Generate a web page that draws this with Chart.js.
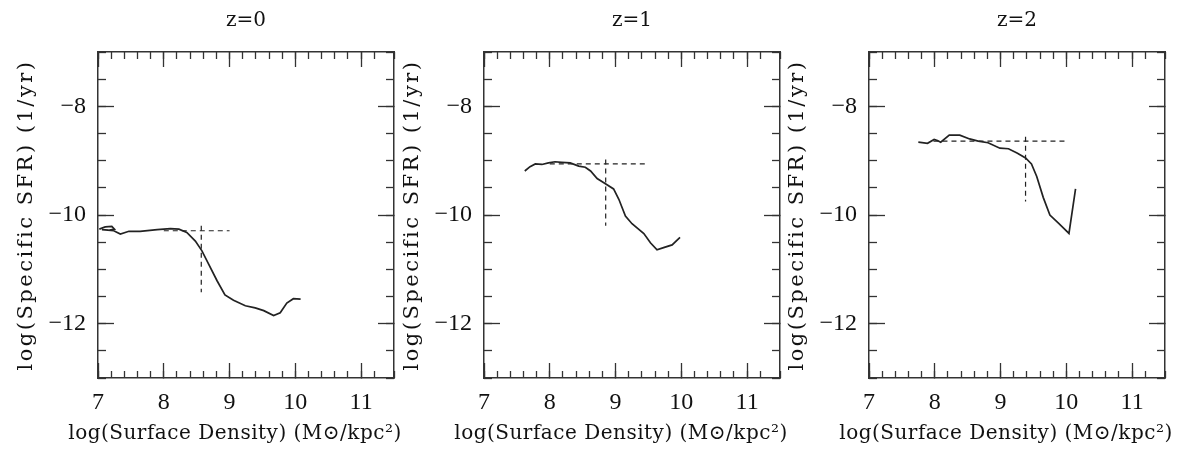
<!DOCTYPE html>
<html>
<head>
<meta charset="utf-8">
<script src="https://cdn.jsdelivr.net/npm/chart.js@4"></script>
<style>
html,body{margin:0;padding:0;background:#fff;}
#wrap{position:relative;width:1189px;height:449px;overflow:hidden;background:#fff;}
#wrap canvas{position:absolute;top:0;}
</style>
</head>
<body>
<div id="wrap">
  <canvas id="p0" width="410" height="449" style="left:0px"></canvas>
  <canvas id="p1" width="410" height="449" style="left:386px"></canvas>
  <canvas id="p2" width="410" height="449" style="left:771px"></canvas>
</div>
<script>
// ===== DATA =====
const panelTitles=['z=0','z=1','z=2'];
const xTickLabels=[7,8,9,10,11];
const yTickLabels=[-12,-10,-8];

const z0X=[7.02,7.11,7.21,7.25,7.16,7.06,7.24,7.34,7.47,7.64,7.90,8.10,8.23,8.35,8.48,8.58,8.68,8.81,8.93,9.06,9.24,9.39,9.52,9.67,9.77,9.87,9.97,10.08];
const z0Y=[-10.26,-10.22,-10.21,-10.26,-10.28,-10.27,-10.29,-10.35,-10.30,-10.30,-10.27,-10.25,-10.26,-10.32,-10.48,-10.66,-10.90,-11.21,-11.47,-11.57,-11.67,-11.71,-11.76,-11.85,-11.80,-11.62,-11.54,-11.55];

const z1X=[7.62,7.70,7.78,7.88,7.98,8.08,8.18,8.31,8.44,8.54,8.62,8.72,8.84,8.97,9.05,9.15,9.25,9.43,9.53,9.63,9.73,9.86,9.98];
const z1Y=[-9.19,-9.11,-9.06,-9.07,-9.04,-9.02,-9.03,-9.04,-9.10,-9.12,-9.19,-9.33,-9.42,-9.52,-9.71,-10.02,-10.16,-10.34,-10.51,-10.64,-10.60,-10.55,-10.41];

const z2X=[7.75,7.89,7.99,8.04,8.09,8.22,8.38,8.53,8.66,8.81,8.99,9.12,9.25,9.38,9.47,9.55,9.65,9.75,9.88,10.04,10.14];
const z2Y=[-8.66,-8.68,-8.61,-8.63,-8.66,-8.53,-8.53,-8.60,-8.64,-8.67,-8.77,-8.78,-8.86,-8.95,-9.06,-9.29,-9.68,-10.00,-10.15,-10.34,-9.52];

// dashed cross in each panel
const hLineY=[-10.29,-9.06,-8.64];
const hLineFrom=[8.0,8.0,7.98];
const hLineTo=[9.0,9.5,9.99];
const vLineX=[8.57,8.85,9.38];
const vLineTop=[-10.2,-8.98,-8.56];
const vLineBottom=[-11.42,-10.2,-9.75];

const curvesX=[z0X,z1X,z2X];
const curvesY=[z0Y,z1Y,z2Y];

// ===== STYLE =====
const FONT="'DejaVu Serif',serif";
const TICKFONT="'Liberation Serif',serif";
const INK='#222';
const AXC='#333';
const fmt=v=>v<0?'\u2212'+Math.abs(v):String(v);

// axis titles in the original are wide: add letter spacing and let x title overhang the panel
function patchTitle(s,sp,dl,dr){
  s.drawTitle=function(){
    const c=this.ctx;c.save();c.letterSpacing=sp;
    const l=this.left,r=this.right;
    this.left=l-dl;this.right=r+dr;
    Chart.Scale.prototype.drawTitle.call(this);
    this.left=l;this.right=r;
    c.restore();
  };
}

function minorAxis(pos,lo,hi,step,len){
  const horiz=pos==='top'||pos==='bottom';
  return {type:'linear',position:pos,min:lo,max:hi,weight:0,
    grid:{drawOnChartArea:false,drawTicks:true,tickLength:-len,tickColor:AXC,tickWidth:1.3},
    border:{display:false},
    ticks:{display:false,stepSize:step},
    afterFit:s=>{if(horiz)s.height=0;else s.width=0;}};
}
function majorBlank(pos,lo,hi,vals,len){
  const horiz=pos==='top'||pos==='bottom';
  return {type:'linear',position:pos,min:lo,max:hi,weight:1,
    grid:{drawOnChartArea:false,drawTicks:true,tickLength:-len,tickColor:AXC,tickWidth:1.3},
    border:{display:true,color:AXC,width:1.5},
    ticks:{display:false},
    afterBuildTicks:s=>{s.ticks=vals.map(v=>({value:v}));},
    afterFit:s=>{if(horiz)s.height=0;else s.width=0;}};
}

function makePanel(i){
  const cx=curvesX[i],cy=curvesY[i];
  const curve=cx.map((x,k)=>({x:x,y:cy[k]}));
  const hLine=[{x:hLineFrom[i],y:hLineY[i]},{x:hLineTo[i],y:hLineY[i]}];
  const vLine=[{x:vLineX[i],y:vLineTop[i]},{x:vLineX[i],y:vLineBottom[i]}];
  return new Chart(document.getElementById('p'+i),{type:'scatter',
    data:{datasets:[
      {data:curve,showLine:true,borderColor:INK,borderWidth:1.7,pointRadius:0,tension:0},
      {data:hLine,showLine:true,borderColor:INK,borderWidth:1.2,borderDash:[5,4],pointRadius:0},
      {data:vLine,showLine:true,borderColor:INK,borderWidth:1.2,borderDash:[5,4],pointRadius:0}
    ]},
    options:{responsive:false,animation:false,devicePixelRatio:1,
      layout:{padding:{left:0,right:16,top:0,bottom:0}},
      plugins:{legend:{display:false},tooltip:{enabled:false},
        title:{display:true,text:panelTitles[i],fullSize:false,color:'#111',
          font:{family:FONT,size:20,weight:'normal'},padding:{top:9,bottom:19}}},
      scales:{
        x:{type:'linear',position:'bottom',min:7,max:11.5,weight:1,
          grid:{drawOnChartArea:false,drawTicks:true,tickLength:-15,tickColor:AXC,tickWidth:1.3},
          border:{display:true,color:AXC,width:1.5},
          ticks:{autoSkip:false,maxRotation:0,padding:25,color:'#111',font:{family:TICKFONT,size:24},callback:fmt},
          afterBuildTicks:s=>{s.ticks=xTickLabels.map(v=>({value:v}));},
          title:{display:true,text:'log(Surface Density) (M\u2299/kpc\u00b2)',color:'#111',
            font:{family:FONT,size:20},padding:{top:0,bottom:3}},
          afterFit:s=>{s.height=71;patchTitle(s,'0.5px',42,20);}},
        xm:minorAxis('bottom',7,11.5,0.2,7),
        xt:majorBlank('top',7,11.5,xTickLabels,15),
        xtm:minorAxis('top',7,11.5,0.2,7),
        y:{type:'linear',position:'left',min:-13,max:-7,weight:1,
          grid:{drawOnChartArea:false,drawTicks:true,tickLength:-16,tickColor:AXC,tickWidth:1.3},
          border:{display:true,color:AXC,width:1.5},
          ticks:{padding:28,color:'#111',font:{family:TICKFONT,size:24},callback:fmt},
          afterBuildTicks:s=>{s.ticks=yTickLabels.map(v=>({value:v}));},
          title:{display:true,text:'log(Specific SFR) (1/yr)',color:'#111',
            font:{family:FONT,size:21},padding:{top:14,bottom:0}},
          afterFit:s=>{s.width=98;patchTitle(s,'2.5px',0,0);}},
        ym:minorAxis('left',-13,-7,0.5,8),
        yr:majorBlank('right',-13,-7,yTickLabels,16),
        yrm:minorAxis('right',-13,-7,0.5,8)
      }
    }
  });
}
[0,1,2].forEach(makePanel);
</script>
</body>
</html>
